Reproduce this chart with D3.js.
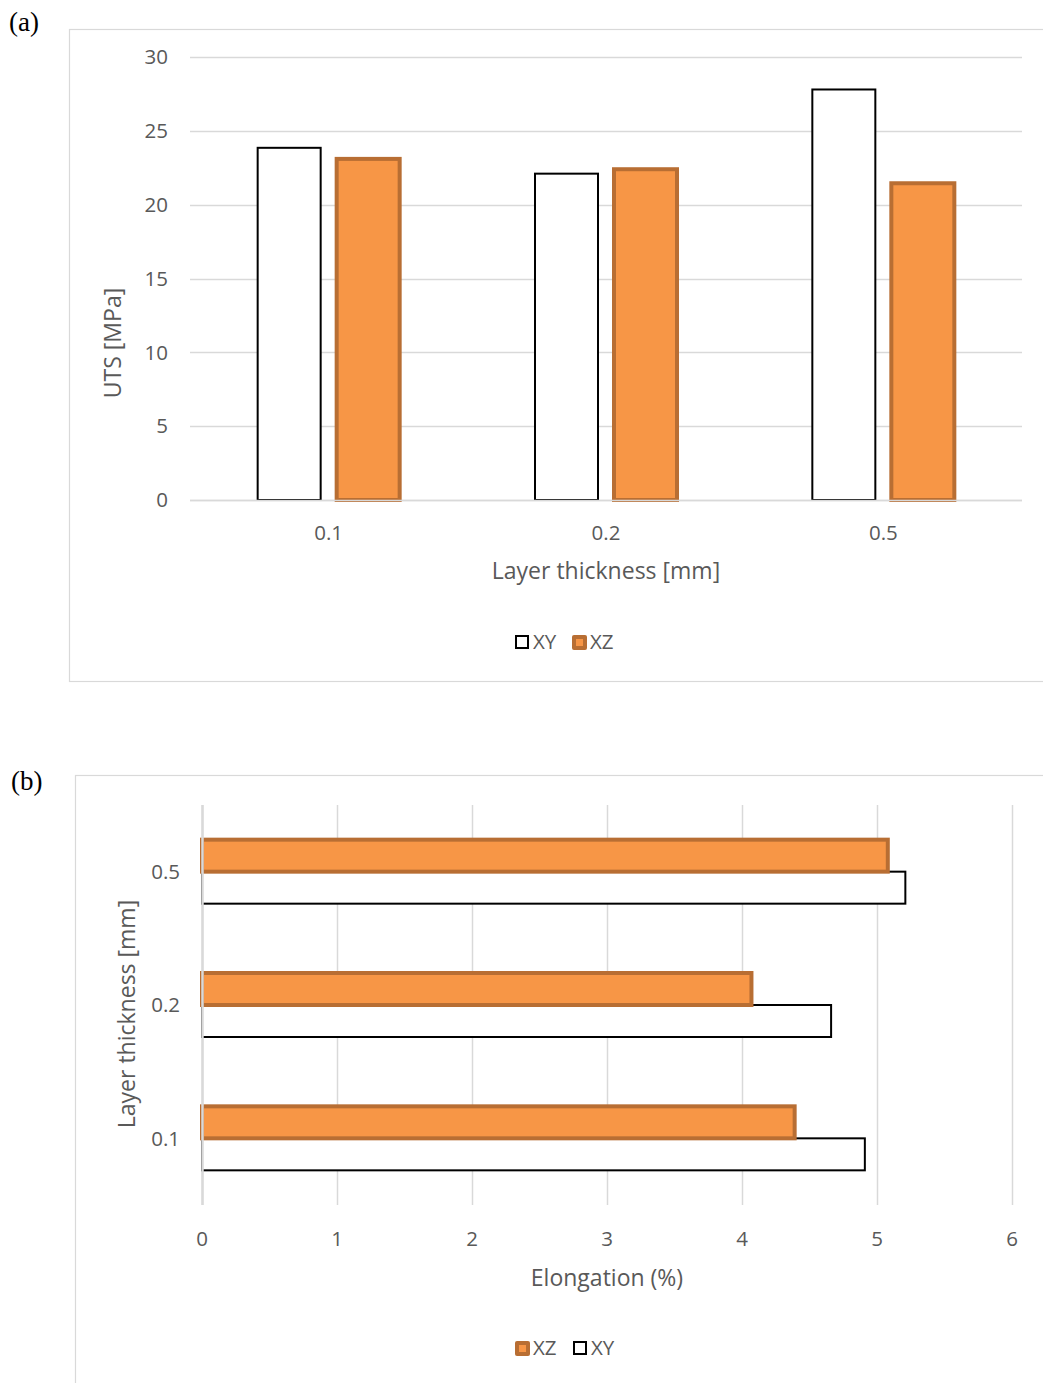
<!DOCTYPE html>
<html>
<head>
<meta charset="utf-8">
<script src="https://cdn.jsdelivr.net/npm/d3@7"></script>
<style>
  html, body { margin: 0; padding: 0; background: #fff; }
  svg { display: block; }
  .tick-label { font-family: "Open Sans", sans-serif; font-size: 20.5px; fill: #595959; }
  .axis-title { font-family: "Open Sans", sans-serif; font-size: 23px; fill: #595959; }
  .legend-text { font-family: "Open Sans", sans-serif; font-size: 20.5px; fill: #595959; }
  .panel-label { font-family: "Liberation Serif", "Times New Roman", serif; font-size: 27px; fill: #000; }
</style>
</head>
<body>
<script>
// Layer thicknesses tested (mm)
const categories = ["0.1", "0.2", "0.5"];
// Ultimate tensile strength, MPa
const utsXY = [23.85, 22.1, 27.8];
const utsXZ = [23.1, 22.4, 21.45];
const utsTicks = [0, 5, 10, 15, 20, 25, 30];
// Elongation at break, %
const elongXZ = [4.39, 4.07, 5.08];
const elongXY = [4.91, 4.66, 5.21];
const elongTicks = [0, 1, 2, 3, 4, 5, 6];

const ORANGE_FILL = "#F79646";
const ORANGE_EDGE = "#B86E33";
const GRID = "#d9d9d9";

const W = 1043, H = 1383;
const svg = d3.select("body").append("svg").attr("width", W).attr("height", H);

// ---------- (a) UTS vertical bars ----------
const gA = svg.append("g");
gA.append("rect").attr("x", 69.5).attr("y", 29.5).attr("width", 1000).attr("height", 652)
  .attr("fill", "none").attr("stroke", GRID).attr("stroke-width", 1.2);
gA.append("text").attr("class", "panel-label").attr("x", 9).attr("y", 31).text("(a)");

const xA = d3.scaleBand().domain(categories).range([190, 1022]);
const yA = d3.scaleLinear().domain([0, 30]).range([500, 57]);

gA.selectAll("line.grid").data(utsTicks).join("line")
  .attr("x1", 190).attr("x2", 1022)
  .attr("y1", d => Math.round(yA(d)) + 0.5).attr("y2", d => Math.round(yA(d)) + 0.5)
  .attr("stroke", GRID).attr("stroke-width", 1.5);
gA.selectAll("text.ytick").data(utsTicks).join("text").attr("class", "tick-label")
  .attr("x", 168).attr("y", d => yA(d)).attr("dy", "0.35em").attr("text-anchor", "end")
  .text(d => d);
gA.selectAll("text.xtick").data(categories).join("text").attr("class", "tick-label")
  .attr("x", d => xA(d) + xA.bandwidth() / 2).attr("y", 533).attr("dy", "0.35em")
  .attr("text-anchor", "middle").text(d => d);

const barWA = 63, offA = 39.5;
gA.selectAll("rect.xy").data(categories).join("rect")
  .attr("x", d => xA(d) + xA.bandwidth() / 2 - offA - barWA / 2)
  .attr("y", (d, i) => yA(utsXY[i]))
  .attr("width", barWA).attr("height", (d, i) => yA(0) - yA(utsXY[i]))
  .attr("fill", "#fff").attr("stroke", "#000").attr("stroke-width", 2);
gA.selectAll("rect.xz").data(categories).join("rect")
  .attr("x", d => xA(d) + xA.bandwidth() / 2 + offA - barWA / 2)
  .attr("y", (d, i) => yA(utsXZ[i]))
  .attr("width", barWA).attr("height", (d, i) => yA(0) - yA(utsXZ[i]))
  .attr("fill", ORANGE_FILL).attr("stroke", ORANGE_EDGE).attr("stroke-width", 4);
// category axis line on top of the bar bases
gA.append("line").attr("x1", 190).attr("x2", 1022)
  .attr("y1", Math.round(yA(0)) + 0.5).attr("y2", Math.round(yA(0)) + 0.5)
  .attr("stroke", GRID).attr("stroke-width", 1.5);

gA.append("text").attr("class", "axis-title").attr("x", 606).attr("y", 571).attr("dy", "0.35em")
  .attr("text-anchor", "middle").text("Layer thickness [mm]");
gA.append("text").attr("class", "axis-title")
  .attr("transform", "translate(113,343) rotate(-90)").attr("dy", "0.35em")
  .attr("text-anchor", "middle").text("UTS [MPa]");

// legend entries
function legendItem(g, x, y, kind, label) {
  if (kind === "xy") {
    g.append("rect").attr("x", x + 1).attr("y", y - 6).attr("width", 12).attr("height", 12)
      .attr("fill", "#fff").attr("stroke", "#000").attr("stroke-width", 2);
  } else {
    g.append("rect").attr("x", x).attr("y", y - 7).attr("width", 15).attr("height", 15).attr("rx", 2)
      .attr("fill", ORANGE_EDGE);
    g.append("rect").attr("x", x + 4).attr("y", y - 3).attr("width", 7).attr("height", 7)
      .attr("fill", ORANGE_FILL);
  }
  g.append("text").attr("class", "legend-text").attr("x", x + 18).attr("y", y).attr("dy", "0.35em")
    .text(label);
}
legendItem(gA, 515, 642, "xy", "XY");
legendItem(gA, 572, 642, "xz", "XZ");

// ---------- (b) Elongation horizontal bars ----------
const gB = svg.append("g");
gB.append("rect").attr("x", 75.5).attr("y", 775.5).attr("width", 1000).attr("height", 700)
  .attr("fill", "none").attr("stroke", GRID).attr("stroke-width", 1.2);
gB.append("text").attr("class", "panel-label").attr("x", 11).attr("y", 790).text("(b)");

const xB = d3.scaleLinear().domain([0, 6]).range([202, 1012]);
const yB = d3.scaleBand().domain(categories.slice().reverse()).range([805, 1205]);

gB.selectAll("line.grid").data(elongTicks).join("line")
  .attr("x1", d => Math.round(xB(d)) + 0.5).attr("x2", d => Math.round(xB(d)) + 0.5)
  .attr("y1", 805).attr("y2", 1205)
  .attr("stroke", GRID).attr("stroke-width", 1.5);
gB.selectAll("text.xtick").data(elongTicks).join("text").attr("class", "tick-label")
  .attr("x", d => xB(d)).attr("y", 1239).attr("dy", "0.35em").attr("text-anchor", "middle")
  .text(d => d);
gB.selectAll("text.ytick").data(categories).join("text").attr("class", "tick-label")
  .attr("x", 180).attr("y", d => yB(d) + yB.bandwidth() / 2).attr("dy", "0.35em")
  .attr("text-anchor", "end").text(d => d);

const barHB = 32;
gB.selectAll("rect.xy").data(categories).join("rect")
  .attr("x", xB(0))
  .attr("y", d => yB(d) + yB.bandwidth() / 2)
  .attr("width", (d, i) => xB(elongXY[i]) - xB(0)).attr("height", barHB)
  .attr("fill", "#fff").attr("stroke", "#000").attr("stroke-width", 2);
gB.selectAll("rect.xz").data(categories).join("rect")
  .attr("x", xB(0))
  .attr("y", d => yB(d) + yB.bandwidth() / 2 - barHB)
  .attr("width", (d, i) => xB(elongXZ[i]) - xB(0)).attr("height", barHB)
  .attr("fill", ORANGE_FILL).attr("stroke", ORANGE_EDGE).attr("stroke-width", 4);
// category axis line on top of the bar starts
gB.append("line").attr("x1", 202.5).attr("x2", 202.5).attr("y1", 805).attr("y2", 1205)
  .attr("stroke", GRID).attr("stroke-width", 2.5);

gB.append("text").attr("class", "axis-title").attr("x", 607).attr("y", 1278).attr("dy", "0.35em")
  .attr("text-anchor", "middle").text("Elongation (%)");
gB.append("text").attr("class", "axis-title")
  .attr("transform", "translate(127,1014) rotate(-90)").attr("dy", "0.35em")
  .attr("text-anchor", "middle").text("Layer thickness [mm]");

legendItem(gB, 515, 1348, "xz", "XZ");
legendItem(gB, 573, 1348, "xy", "XY");
</script>
</body>
</html>
